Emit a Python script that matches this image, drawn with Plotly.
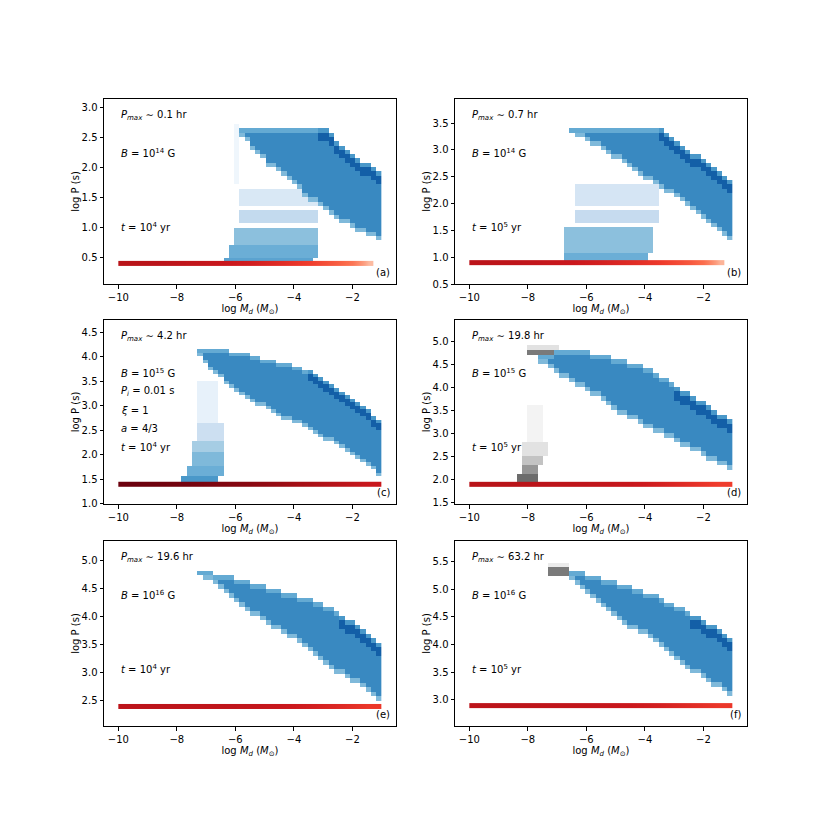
import numpy as np
import plotly.graph_objects as go

# histogram bins in log Md shared by every panel
md_edges = np.linspace(-10, -1, 51)
md_mid = (md_edges[:-1] + md_edges[1:]) / 2
md_step = md_mid[1] - md_mid[0]

# ---------------- panel (a): B=1e14 G, t=1e4 yr ----------------
a_first = -5.77
a_hi = [2.67] * 16 + [2.62, 2.55, 2.47, 2.39, 2.31, 2.25, 2.18, 2.11, 2.05, 1.99, 1.92]
a_lo = [2.52, 2.42, 2.3, 2.2, 2.12, 2.04, 1.97, 1.9, 1.83, 1.76, 1.69, 1.61, 1.53, 1.46,
        1.4, 1.34, 1.28, 1.22, 1.16, 1.1, 1.05, 1.0, 0.96, 0.92, 0.88, 0.83, 0.77]
a_dark_from = -3.1
a_patches = [(-6.33, -3.33, 0.42, 0.52, 0.55), (-6.18, -3.16, 0.52, 0.68, 0.5),
             (-5.95, -3.16, 0.68, 0.99, 0.42), (-5.84, -3.16, 1.06, 1.32, 0.26),
             (-5.84, -3.1, 1.38, 1.68, 0.15), (-6.1, -5.9, 1.7, 2.7, 0.04)]
a_gray = []
a_red_md = [-10, -9, -8, -7, -6, -5, -4, -3, -2, -1.6, -1.3]
a_red = [0.81, 0.8, 0.78, 0.76, 0.73, 0.68, 0.62, 0.53, 0.4, 0.25]
a_pi = 0.4
a_notes = ["<i>P<sub>max</sub></i> ∼ 0.1 hr", "<i>B</i> = 10<sup>14</sup> G",
           "<i>t</i> = 10<sup>4</sup> yr"]

# ---------------- panel (b): B=1e14 G, t=1e5 yr ----------------
b_first = -6.49
b_hi = [3.39] * 17 + [3.36, 3.29, 3.22, 3.15, 3.08, 3.01, 2.94, 2.88, 2.81, 2.74, 2.67,
                      2.6, 2.53, 2.46]
b_lo = [3.28, 3.27, 3.22, 3.17, 3.11, 3.05, 3.0, 2.94, 2.87, 2.8, 2.72, 2.65, 2.58, 2.52,
        2.47, 2.41, 2.35, 2.29, 2.23, 2.18, 2.12, 2.04, 1.96, 1.88, 1.8, 1.72, 1.64, 1.57,
        1.49, 1.4, 1.31]
b_dark_from = -3.6
b_patches = [(-6.81, -3.82, 0.94, 1.1, 0.5), (-6.67, -3.65, 1.1, 1.54, 0.42),
             (-6.44, -3.5, 1.6, 1.88, 0.25), (-6.44, -3.5, 1.98, 2.32, 0.17)]
b_gray = []
b_red_md = [-10, -9, -8, -7, -6, -5, -4, -3, -2, -1.6, -1.3]
b_red = [0.8, 0.79, 0.77, 0.75, 0.72, 0.68, 0.63, 0.55, 0.42, 0.27]
b_pi = 0.9
b_notes = ["<i>P<sub>max</sub></i> ∼ 0.7 hr", "<i>B</i> = 10<sup>14</sup> G",
           "<i>t</i> = 10<sup>5</sup> yr"]

# ---------------- panel (c): B=1e15 G, t=1e4 yr ----------------
c_first = -7.21
c_hi = [4.17, 4.17, 4.16, 4.16, 4.15, 4.14, 4.12, 4.1, 4.08, 4.06, 4.03, 4.0, 3.97, 3.94,
        3.92, 3.9, 3.88, 3.86, 3.83, 3.79, 3.74, 3.69, 3.63, 3.57, 3.51, 3.44, 3.37, 3.3,
        3.23, 3.15, 3.07, 2.98, 2.9, 2.81, 2.72]
c_lo = [4.0, 3.86, 3.75, 3.65, 3.56, 3.47, 3.39, 3.31, 3.23, 3.16, 3.09, 3.03, 2.97, 2.91,
        2.85, 2.8, 2.75, 2.71, 2.67, 2.62, 2.57, 2.51, 2.45, 2.39, 2.32, 2.25, 2.18, 2.11,
        2.04, 1.98, 1.92, 1.85, 1.77, 1.69, 1.6]
c_dark_from = -3.6
c_patches = [(-7.83, -6.64, 1.44, 1.56, 0.6), (-7.66, -6.35, 1.56, 1.77, 0.5),
             (-7.49, -6.35, 1.77, 2.04, 0.45), (-7.49, -6.35, 2.04, 2.31, 0.35),
             (-7.32, -6.35, 2.31, 2.65, 0.22), (-7.32, -6.64, 2.65, 3.53, 0.08)]
c_gray = []
c_red_md = [-10, -9, -8, -7, -6, -5, -4, -3, -2, -1]
c_red = [0.99, 0.98, 0.97, 0.95, 0.93, 0.9, 0.86, 0.81, 0.76]
c_pi = 1.4
c_notes = ["<i>P<sub>max</sub></i> ∼ 4.2 hr", "<i>B</i> = 10<sup>15</sup> G",
           "<i>P<sub>i</sub></i> = 0.01 s", "<i>ξ</i> = 1", "<i>a</i> = 4/3",
           "<i>t</i> = 10<sup>4</sup> yr"]

# ---------------- panel (d): B=1e15 G, t=1e5 yr ----------------
d_first = -7.57
d_hi = [4.75, 4.76, 4.77, 4.85, 4.85, 4.84, 4.83, 4.82, 4.8, 4.78, 4.76, 4.74, 4.71, 4.68,
        4.65, 4.62, 4.59, 4.56, 4.53, 4.5, 4.46, 4.41, 4.33, 4.26, 4.18, 4.1, 4.03, 3.97,
        3.9, 3.83, 3.76, 3.68, 3.6, 3.53, 3.47, 3.41, 3.35]
d_lo = [4.55, 4.48, 4.41, 4.34, 4.27, 4.2, 4.13, 4.06, 3.99, 3.92, 3.85, 3.78, 3.7, 3.63,
        3.55, 3.47, 3.41, 3.36, 3.31, 3.24, 3.17, 3.1, 3.04, 2.99, 2.93, 2.88, 2.82, 2.76,
        2.7, 2.64, 2.59, 2.53, 2.47, 2.42, 2.36, 2.29, 2.2]
d_dark_from = -3.0
d_patches = []
d_gray = [(-8.02, -7.01, 4.86, 4.96, 0.2), (-8.02, -7.13, 4.75, 4.86, 0.6),
          (-8.32, -7.64, 1.94, 2.1, 0.65), (-8.21, -7.64, 2.1, 2.28, 0.5),
          (-8.15, -7.53, 2.28, 2.5, 0.35), (-8.15, -7.3, 2.5, 2.83, 0.2),
          (-7.98, -7.53, 2.83, 3.62, 0.1)]
d_red_md = [-10, -9, -8, -7, -6, -5, -4, -3, -2, -1]
d_red = [0.81, 0.81, 0.8, 0.79, 0.78, 0.76, 0.72, 0.67, 0.62]
d_pi = 1.9
d_notes = ["<i>P<sub>max</sub></i> ∼ 19.8 hr", "<i>B</i> = 10<sup>15</sup> G",
           "<i>t</i> = 10<sup>5</sup> yr"]

# ---------------- panel (e): B=1e16 G, t=1e4 yr ----------------
e_first = -7.21
e_hi = [4.85, 4.83, 4.8, 4.78, 4.76, 4.74, 4.72, 4.7, 4.67, 4.64, 4.61, 4.58, 4.55, 4.52,
        4.49, 4.47, 4.45, 4.43, 4.41, 4.38, 4.35, 4.32, 4.29, 4.25, 4.21, 4.15, 4.09, 4.03,
        3.97, 3.91, 3.86, 3.8, 3.73, 3.65, 3.56]
e_lo = [4.75, 4.7, 4.65, 4.56, 4.48, 4.41, 4.35, 4.28, 4.2, 4.12, 4.05, 3.99, 3.93, 3.87,
        3.82, 3.77, 3.71, 3.65, 3.59, 3.52, 3.46, 3.4, 3.3, 3.2, 3.12, 3.06, 3.0, 2.95,
        2.9, 2.84, 2.8, 2.75, 2.68, 2.6, 2.52]
e_dark_from = -2.5
e_patches = []
e_gray = []
e_red_md = [-10, -9, -8, -7, -6, -5, -4, -3, -2, -1]
e_red = [0.8, 0.8, 0.79, 0.79, 0.78, 0.76, 0.73, 0.69, 0.64]
e_pi = 2.4
e_notes = ["<i>P<sub>max</sub></i> ∼ 19.6 hr", "<i>B</i> = 10<sup>16</sup> G",
           "<i>t</i> = 10<sup>4</sup> yr"]

# ---------------- panel (f): B=1e16 G, t=1e5 yr ----------------
f_first = -6.67
f_hi = [5.3, 5.35, 5.33, 5.3, 5.27, 5.24, 5.21, 5.18, 5.16, 5.13, 5.1, 5.07, 5.05, 5.02,
        4.99, 4.96, 4.93, 4.89, 4.85, 4.8, 4.76, 4.71, 4.66, 4.61, 4.56, 4.5, 4.45, 4.39,
        4.33, 4.26, 4.19, 4.12]
f_lo = [5.22, 5.15, 5.07, 5.0, 4.92, 4.84, 4.75, 4.67, 4.58, 4.5, 4.43, 4.37, 4.32, 4.27,
        4.22, 4.17, 4.1, 4.03, 3.96, 3.89, 3.82, 3.74, 3.66, 3.58, 3.51, 3.45, 3.39, 3.33,
        3.27, 3.21, 3.15, 3.07]
f_dark_from = -2.4
f_patches = []
f_gray = [(-7.3, -6.67, 5.37, 5.46, 0.15), (-7.3, -6.67, 5.27, 5.37, 0.6)]
f_red_md = [-10, -9, -8, -7, -6, -5, -4, -3, -2, -1]
f_red = [0.8, 0.8, 0.79, 0.78, 0.77, 0.75, 0.72, 0.68, 0.64]
f_pi = 2.9
f_notes = ["<i>P<sub>max</sub></i> ∼ 63.2 hr", "<i>B</i> = 10<sup>16</sup> G",
           "<i>t</i> = 10<sup>5</sup> yr"]

# matplotlib-like colour maps
blues = [[0, '#f7fbff'], [0.125, '#deebf7'], [0.25, '#c6dbef'], [0.375, '#9ecae1'],
         [0.5, '#6baed6'], [0.625, '#4292c6'], [0.75, '#2171b5'], [0.875, '#08519c'],
         [1, '#08306b']]
reds = [[0, '#fff5f0'], [0.125, '#fee0d2'], [0.25, '#fcbba1'], [0.375, '#fc9272'],
        [0.5, '#fb6a4a'], [0.625, '#ef3b2c'], [0.75, '#cb181d'], [0.875, '#a50f15'],
        [1, '#67000d']]
greys = [[0, '#ffffff'], [0.125, '#f0f0f0'], [0.25, '#d9d9d9'], [0.375, '#bdbdbd'],
         [0.5, '#969696'], [0.625, '#737373'], [0.75, '#525252'], [0.875, '#252525'],
         [1, '#000000']]

panels = [
    dict(tag='(a)', first=a_first, lo=a_lo, hi=a_hi, dark=a_dark_from, patches=a_patches,
         gray=a_gray, red_md=a_red_md, red=a_red, pi=a_pi, notes=a_notes,
         yr=[0.055, 3.14], dy=0.072, col=0, row=0),
    dict(tag='(b)', first=b_first, lo=b_lo, hi=b_hi, dark=b_dark_from, patches=b_patches,
         gray=b_gray, red_md=b_red_md, red=b_red, pi=b_pi, notes=b_notes,
         yr=[0.5, 3.95], dy=0.08, col=1, row=0),
    dict(tag='(c)', first=c_first, lo=c_lo, hi=c_hi, dark=c_dark_from, patches=c_patches,
         gray=c_gray, red_md=c_red_md, red=c_red, pi=c_pi, notes=c_notes,
         yr=[0.995, 4.75], dy=0.072, col=0, row=1),
    dict(tag='(d)', first=d_first, lo=d_lo, hi=d_hi, dark=d_dark_from, patches=d_patches,
         gray=d_gray, red_md=d_red_md, red=d_red, pi=d_pi, notes=d_notes,
         yr=[1.47, 5.47], dy=0.1, col=1, row=1),
    dict(tag='(e)', first=e_first, lo=e_lo, hi=e_hi, dark=e_dark_from, patches=e_patches,
         gray=e_gray, red_md=e_red_md, red=e_red, pi=e_pi, notes=e_notes,
         yr=[2.05, 5.35], dy=0.08, col=0, row=2),
    dict(tag='(f)', first=f_first, lo=f_lo, hi=f_hi, dark=f_dark_from, patches=f_patches,
         gray=f_gray, red_md=f_red_md, red=f_red, pi=f_pi, notes=f_notes,
         yr=[2.53, 5.87], dy=0.08, col=1, row=2),
]

# axes boxes in figure pixels (page body adds an 8px offset)
x_dom = [[96 / 830, 388 / 830], [447 / 830, 739 / 830]]
y_dom = [[1 - 276 / 830, 1 - 91 / 830], [1 - 496 / 830, 1 - 312 / 830],
         [1 - 718 / 830, 1 - 533 / 830]]
note_y3 = [0.91, 0.71, 0.31]
note_y6 = [0.91, 0.71, 0.61, 0.51, 0.41, 0.31]


def fill_patches(z, pc, patches):
    for x0, x1, y0, y1, lev in patches:
        cols = np.where((md_mid >= x0) & (md_mid <= x1))[0]
        rows = np.where((pc >= y0) & (pc <= y1))[0]
        sub = np.ix_(rows, cols)
        z[sub] = np.fmax(z[sub], lev)


fig = go.Figure()
font = dict(family='DejaVu Sans', size=10, color='black')

for n, p in enumerate(panels, start=1):
    xa = 'x' if n == 1 else f'x{n}'
    ya = 'y' if n == 1 else f'y{n}'
    p_edges = np.arange(p['pi'] + 0.02, p['yr'][1] + p['dy'], p['dy'])
    pc = (p_edges[:-1] + p_edges[1:]) / 2

    # main band: per-column extent
    z = np.full((len(pc), len(md_mid)), np.nan)
    k0 = int(round((p['first'] - md_mid[0]) / md_step))
    for j, (lo, hi) in enumerate(zip(p['lo'], p['hi'])):
        k = k0 + j
        rows = np.where((pc >= lo) & (pc <= hi))[0]
        if len(rows) == 0:
            continue
        z[rows, k] = 0.66
        z[rows[0], k] = 0.45
        if md_mid[k] > p['dark'] and len(rows) >= 3:
            z[rows[-3:-1], k] = 0.82
            z[rows[-1], k] = 0.6
        else:
            z[rows[-1], k] = 0.52
    fill_patches(z, pc, p['patches'])
    fig.add_trace(go.Heatmap(x=md_edges, y=p_edges, z=z, colorscale=blues, zmin=0, zmax=1,
                             showscale=False, hoverongaps=False, xaxis=xa, yaxis=ya))

    if p['gray']:
        zg = np.full((len(pc), len(md_mid)), np.nan)
        fill_patches(zg, pc, p['gray'])
        fig.add_trace(go.Heatmap(x=md_edges, y=p_edges, z=zg, colorscale=greys, zmin=0,
                                 zmax=1, showscale=False, hoverongaps=False,
                                 xaxis=xa, yaxis=ya))

    # red strip at log P_i
    half = 2.4 * (p['yr'][1] - p['yr'][0]) / 185
    fig.add_trace(go.Heatmap(x=p['red_md'], y=[p['pi'] - half, p['pi'], p['pi'] + half],
                             z=[p['red'], p['red']], colorscale=reds, zmin=0, zmax=1,
                             zsmooth='best', showscale=False, xaxis=xa, yaxis=ya))

    axis_common = dict(showline=True, linecolor='black', linewidth=1, mirror=True,
                       ticks='outside', ticklen=3.5, tickwidth=0.8, tickcolor='black',
                       showgrid=False, zeroline=False, tickfont=font, automargin=False)
    fig.layout[xa.replace('x', 'xaxis')] = dict(
        axis_common, domain=x_dom[p['col']], range=[-10.49, -0.51], anchor=ya,
        tickvals=[-10, -8, -6, -4, -2],
        title=dict(text='log <i>M<sub>d</sub></i> (<i>M</i><sub>⊙</sub>)', font=font,
                   standoff=0))
    fig.layout[ya.replace('y', 'yaxis')] = dict(
        axis_common, domain=y_dom[p['row']], range=p['yr'], anchor=xa, dtick=0.5,
        tickformat='.1f', title=dict(text='log P (s)', font=font, standoff=0))

    ys = note_y6 if len(p['notes']) == 6 else note_y3
    for txt, yy in zip(p['notes'], ys):
        fig.add_annotation(text=txt, x=0.05, y=yy, xref=f'{xa} domain', yref=f'{ya} domain',
                           xanchor='left', yanchor='middle', showarrow=False, font=font)
    fig.add_annotation(text=p['tag'], x=0.985, y=0.02, xref=f'{xa} domain',
                       yref=f'{ya} domain', xanchor='right', yanchor='bottom',
                       showarrow=False, font=font)

fig.update_layout(width=830, height=830, template='none', font=font,
                  paper_bgcolor='white', plot_bgcolor='white',
                  margin=dict(l=0, r=0, t=0, b=0), showlegend=False)
fig.write_html("out.html")
